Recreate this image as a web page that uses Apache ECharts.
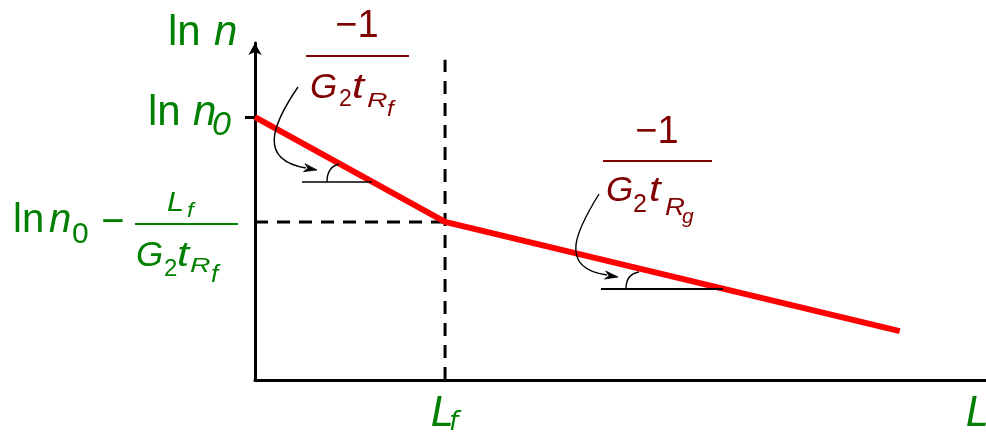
<!DOCTYPE html>
<html>
<head>
<meta charset="utf-8">
<script src="https://cdn.jsdelivr.net/npm/echarts@6/dist/echarts.min.js"></script>
<style>
  html, body { margin: 0; padding: 0; background: #fff; }
  #chart { width: 986px; height: 434px; }
</style>
</head>
<body>
<div id="chart"></div>
<script>
// Crystal length L (arbitrary units): start, the break point L_f, end of the second segment
const lengths = [0, 2.6, 8.82];
// ln n at those lengths: intercept ln n0, value at L_f, value at the end
const lnN = [7.80, 4.69, 1.45];
// axis extents and the top of the vertical guide at L_f
const xMax = 10;
const yMax = 10;
const guideTop = 9.5;

const GREEN = '#008000';
const DARK = '#800000';
const RED = '#ff0000';
const SANS = '"Liberation Sans", Arial, sans-serif';
const OBLIQUE = '"DejaVu Sans", Verdana, sans-serif';

const chart = echarts.init(document.getElementById('chart'), null, { renderer: 'canvas' });

const Lf = lengths[1];
const knee = lnN[1];

chart.setOption({
  animation: false,
  backgroundColor: '#fff',
  grid: { left: 255, right: 0, top: 43, bottom: 54, containLabel: false, outerBoundsMode: 'none' },
  xAxis: {
    type: 'value', min: 0, max: xMax,
    axisLine: { show: true, onZero: false, lineStyle: { color: '#000', width: 3 } },
    axisTick: { show: false },
    axisLabel: { show: false },
    splitLine: { show: false }
  },
  yAxis: {
    type: 'value', min: 0, max: yMax,
    axisLine: {
      show: true, onZero: false,
      symbol: ['none', 'arrow'], symbolSize: [10, 12],
      lineStyle: { color: '#000', width: 3 }
    },
    axisTick: { show: true, customValues: [lnN[0]], length: 10, lineStyle: { color: '#000', width: 3 } },
    axisLabel: { show: false },
    splitLine: { show: false }
  },
  series: [
    {
      // vertical guide at L_f
      type: 'line', z: 1, symbol: 'none', silent: true,
      data: [[Lf, 0], [Lf, guideTop]],
      lineStyle: { color: '#000', width: 3, type: [13, 9] }
    },
    {
      // horizontal guide at ln n0 - L_f/(G2 tRf)
      type: 'line', z: 1, symbol: 'none', silent: true,
      data: [[0, knee], [Lf, knee]],
      lineStyle: { color: '#000', width: 3, type: [13, 9] }
    },
    {
      // ln n versus L: two straight segments
      type: 'line', z: 3, symbol: 'none', silent: true,
      data: lengths.map((x, i) => [x, lnN[i]]),
      lineStyle: { color: RED, width: 6 }
    }
  ]
});

const px = (x, y) => chart.convertToPixel({ gridIndex: 0 }, [x, y]);
const P0 = px(0, lnN[0]);
const PK = px(Lf, knee);
const O = px(0, 0);
const T = px(0, yMax);

// text piece placed by its alphabetic baseline, optionally widened
function txt(s, x, base, size, color, italic, family, align, sx) {
  return {
    type: 'text', silent: true, z: 10,
    x: x, y: base - 0.3465 * size,
    scaleX: sx || 1,
    style: {
      text: s, x: 0, y: 0,
      font: (italic ? 'italic ' : '') + size + 'px ' + (family || SANS),
      fill: color, align: align || 'left', verticalAlign: 'middle'
    }
  };
}
function bar(x1, x2, y, color) {
  return { type: 'line', silent: true, z: 10, shape: { x1: x1, y1: y, x2: x2, y2: y }, style: { stroke: color, lineWidth: 2 } };
}
function thin(shapeType, shape, w) {
  return { type: shapeType, silent: true, z: 10, shape: shape, style: { stroke: '#000', lineWidth: w || 1.4, fill: null } };
}
function arrowHead(tx, ty, ang) {
  const len = 13, half = 4;
  const c = Math.cos(ang), s = Math.sin(ang);
  const bx = tx - len * c, by = ty - len * s;
  return {
    type: 'polygon', silent: true, z: 10,
    shape: { points: [[tx, ty], [bx - half * s, by + half * c], [tx - 0.7 * len * c, ty - 0.7 * len * s], [bx + half * s, by - half * c]] },
    style: { fill: '#000', stroke: '#000', lineWidth: 0.8 }
  };
}

const g = [];

// axis name ln n
g.push(txt('ln', T[0] - 87, T[1] + 5, 42, GREEN));
g.push(txt('n', T[0] - 41, T[1] + 5, 42, GREEN, true));

// tick label ln n0
g.push(txt('ln', P0[0] - 107, P0[1] + 11, 42, GREEN));
g.push(txt('n', P0[0] - 62, P0[1] + 11, 42, GREEN, true));
g.push(txt('0', P0[0] - 43, P0[1] + 20, 34, GREEN, true));

// label ln n0 - L_f / (G2 tRf) at the knee
const ky = PK[1];
g.push(txt('ln', 13, ky + 13, 40, GREEN));
g.push(txt('n', 49, ky + 13, 40, GREEN, true));
g.push(txt('0', 72, ky + 23, 30, GREEN));
g.push(txt('\u2212', 113, ky + 15, 40, GREEN, false, SANS, 'center'));
g.push(bar(135, 238, ky + 2, GREEN));
g.push(txt('L', 167, ky - 9, 28, GREEN, true, SANS, 'left', 1.1));
g.push(txt('f', 187, ky - 4, 20, GREEN, true, SANS, 'left', 1.2));
g.push(txt('G', 136, ky + 46, 35, GREEN, true));
g.push(txt('2', 164, ky + 56, 24, GREEN));
g.push(txt('t', 177, ky + 46, 35, GREEN, true, SANS, 'left', 1.25));
g.push(txt('R', 190, ky + 51, 21, GREEN, true, SANS, 'left', 1.35));
g.push(txt('f', 211, ky + 62, 24, GREEN, true, SANS, 'left', 1.1));

// x labels
g.push(txt('L', PK[0] - 14, O[1] + 49, 40, GREEN, true, OBLIQUE));
g.push(txt('f', PK[0] + 4, O[1] + 52, 26, GREEN, true, OBLIQUE));
g.push(txt('L', 966, O[1] + 49, 40, GREEN, true, OBLIQUE));

// slope of the first segment: -1 / (G2 tRf)
g.push(txt('\u22121', 357, 40, 38, DARK, false, SANS, 'center'));
g.push(bar(306, 409, 56, DARK));
g.push(txt('G', 310, 100, 35, DARK, true));
g.push(txt('2', 339, 108, 23, DARK));
g.push(txt('t', 352, 100, 35, DARK, true, SANS, 'left', 1.25));
g.push(txt('R', 367, 108, 21, DARK, true, SANS, 'left', 1.35));
g.push(txt('f', 387, 117, 22, DARK, true, SANS, 'left', 1.1));

// slope of the second segment: -1 / (G2 tRg)
g.push(txt('\u22121', 657, 146, 38, DARK, false, SANS, 'center'));
g.push(bar(603, 712, 161, DARK));
g.push(txt('G', 606, 203, 35, DARK, true));
g.push(txt('2', 633, 214, 25, DARK));
g.push(txt('t', 649, 203, 35, DARK, true, SANS, 'left', 1.2));
g.push(txt('R', 665, 217, 23, DARK, true, SANS, 'left', 1.2));
g.push(txt('g', 682, 224, 21, DARK, true));

// pointer arrows and slope angle marks
g.push(thin('bezierCurve', { x1: 298, y1: 87, cpx1: 272, cpy1: 125, cpx2: 258, cpy2: 160, x2: 306, y2: 168 }));
g.push(arrowHead(317, 170, 0.18));
g.push(thin('line', { x1: 302, y1: 182, x2: 372, y2: 182 }));
g.push(thin('bezierCurve', { x1: 327, y1: 182, cpx1: 327, cpy1: 167, x2: 339, y2: 164 }));

g.push(thin('bezierCurve', { x1: 599, y1: 194, cpx1: 578, cpy1: 228, cpx2: 556, cpy2: 268, x2: 607, y2: 275 }));
g.push(arrowHead(618, 277, 0.15));
g.push(thin('line', { x1: 601, y1: 289, x2: 723, y2: 289 }, 2));
g.push(thin('bezierCurve', { x1: 626, y1: 289, cpx1: 626, cpy1: 274, x2: 639, y2: 272 }));

chart.setOption({ graphic: { elements: g } });
</script>
</body>
</html>
